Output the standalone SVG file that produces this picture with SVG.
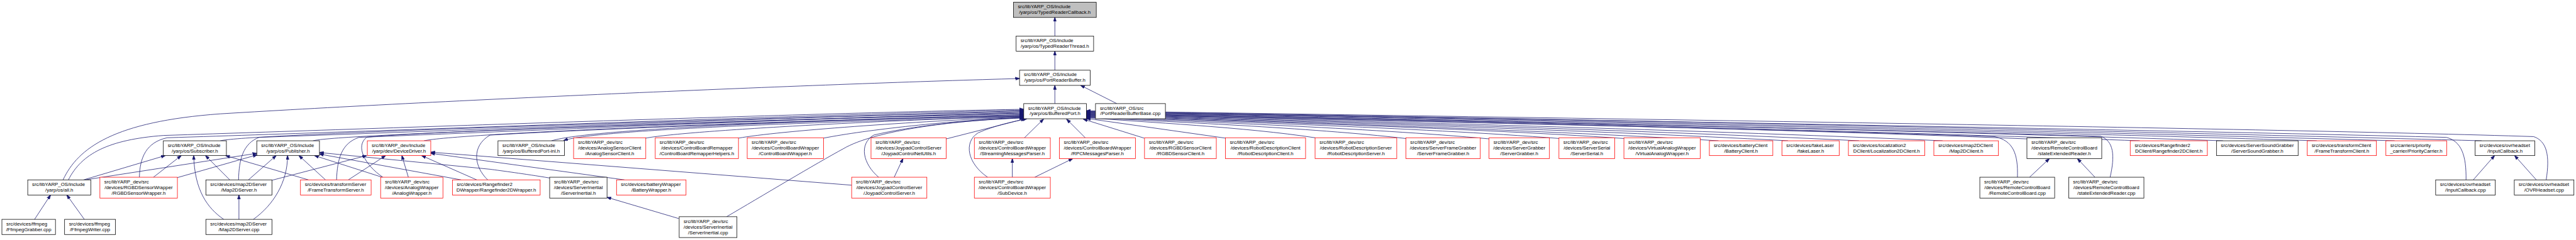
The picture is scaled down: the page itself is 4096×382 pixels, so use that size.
<svg xmlns="http://www.w3.org/2000/svg" width="4096" height="382" viewBox="0 0 4096 382">
<style>
.n rect{fill:#fff;stroke:#000;stroke-width:1.3}
.r rect{stroke:#ff0000}
.g rect{fill:#bfbfbf}
text{font-family:"Liberation Sans",Arial,Helvetica,sans-serif;font-size:13px;fill:#000}
.c{text-anchor:middle}
#edges path{fill:none;stroke:#191970;stroke-width:1.3;marker-end:url(#ah)}
</style>
<defs>
<marker id="ah" markerUnits="userSpaceOnUse" markerWidth="12" markerHeight="9" viewBox="0 0 12 9" refX="11" refY="4.5" orient="auto"><path d="M0,0.5 L12,4.5 L0,8.5 z" fill="#191970" stroke="#191970" stroke-width="1"/></marker>
</defs>
<rect width="4096" height="382" fill="#fff"/>
<g transform="scale(0.604)">
<g id="edges">
<path d="M2777,95 L2777,46"/>
<path d="M2777,185 L2777,135"/>
<path d="M2777,273 L2777,225"/>
<path d="M2940,273 L2845,225"/>
<path d="M166,474 C205,390 300,320 580,300 C1200,262 2200,220 2684,207"/>
<path d="M180,474 C215,405 285,368 430,357 C1100,335 2200,296 2695,288"/>
<path d="M367,467 C368,415 385,375 440,363 C1100,342 2200,300 2695,290"/>
<path d="M580,371 C640,356 1400,330 2695,292"/>
<path d="M628,474 C629,420 640,378 682,362 C1300,340 2200,305 2695,294"/>
<path d="M824,371 C880,355 1700,328 2695,296"/>
<path d="M886,474 C888,420 898,378 945,362 C1500,340 2300,305 2695,298"/>
<path d="M1008,467 C960,435 935,385 965,362 C1100,345 2200,310 2695,300"/>
<path d="M1116,371 C1200,352 2000,320 2695,302"/>
<path d="M1284,474 C1248,440 1240,385 1290,356 C1600,338 2300,312 2695,304"/>
<path d="M1452,371 C1560,338 2200,315 2695,305"/>
<path d="M2695,307 C2200,320 1580,340 1484,370"/>
<path d="M1700,364 C1800,345 2300,318 2695,306"/>
<path d="M1944,364 C2050,345 2400,320 2695,308"/>
<path d="M2168,364 C2280,342 2500,318 2695,309"/>
<path d="M1913,571 C2000,520 2150,430 2220,392 C2300,345 2500,318 2695,310"/>
<path d="M2313,467 C2272,432 2260,380 2300,356 C2400,332 2550,316 2695,311"/>
<path d="M2491,366 L2699,313"/>
<path d="M2600,467 C2548,432 2535,375 2575,350 C2620,330 2670,320 2703,313"/>
<path d="M2697,363 L2747,314"/>
<path d="M2857,363 L2808,314"/>
<path d="M3012,364 L2852,314"/>
<path d="M3226,364 L2860,312"/>
<path d="M3462,363 C3281,335 3010,322 2860,310"/>
<path d="M3701,365 C3449,336 3070,321 2860,309"/>
<path d="M3921,366 C3603,337 3125,320 2860,308"/>
<path d="M4106,365 C3732,336 3171,319 2860,307"/>
<path d="M4276,365 C3851,336 3214,318 2860,306"/>
<path d="M4524,371 C4025,341 3276,317 2860,305"/>
<path d="M4707,371 C4153,341 3322,316 2860,304"/>
<path d="M4894,371 C4284,341 3368,315 2860,303"/>
<path d="M5114,371 C4438,341 3423,314 2860,302"/>
<path d="M5336,366 C4593,336 3479,313 2860,301"/>
<path d="M5311,467 C5313,405 5300,370 5250,360 C4600,338 3500,315 2860,300"/>
<path d="M5555,467 C5568,410 5565,372 5530,359 C4800,337 3600,314 2860,299"/>
<path d="M5633,371 C4801,341 3553,311 2860,298"/>
<path d="M5852,371 C4954,341 3608,310 2860,297"/>
<path d="M6099,371 C5127,341 3670,309 2860,296"/>
<path d="M6304,371 C5271,341 3721,308 2860,295"/>
<path d="M6492,474 C6493,410 6480,372 6440,362 C5600,340 3800,310 2860,294"/>
<path d="M6533,371 C5431,341 3778,306 2860,293"/>
<path d="M6703,474 C6713,410 6705,372 6670,360 C6000,338 3900,308 2860,292"/>
<path d="M220,474 L435,410"/>
<path d="M404,467 L477,410"/>
<path d="M589,578 C545,548 512,500 510,410"/>
<path d="M605,474 L541,410"/>
<path d="M812,474 L594,410"/>
<path d="M224,474 L676,404"/>
<path d="M467,468 L677,408"/>
<path d="M654,474 L727,410"/>
<path d="M667,578 C720,540 757,480 757,410"/>
<path d="M857,474 L787,410"/>
<path d="M1006,467 L828,410"/>
<path d="M1214,474 L841,406"/>
<path d="M1447,469 C1380,458 1320,450 1290,446 L841,402"/>
<path d="M716,475 L965,410"/>
<path d="M917,474 L1015,410"/>
<path d="M1075,467 L1058,410"/>
<path d="M1255,474 L1110,410"/>
<path d="M1644,474 L1134,404"/>
<path d="M2242,488 L1134,401"/>
<path d="M91,578 L133,514"/>
<path d="M222,578 L176,514"/>
<path d="M629,578 L629,514"/>
<path d="M1787,576 L1598,520"/>
<path d="M2665,467 L2665,418"/>
<path d="M2724,467 L2824,418"/>
<path d="M2354,467 L2377,418"/>
<path d="M5343,467 L5395,418"/>
<path d="M5515,467 L5469,418"/>
<path d="M6511,474 L6567,410"/>
<path d="M6677,474 L6620,410"/>
</g>
<g id="n_root" class="n g"><rect x="2668" y="6" width="218" height="40"/><text x="2679.5" y="22">src/libYARP_OS/include</text><text class="c" x="2777" y="36.5">/yarp/os/TypedReaderCallback.h</text></g>
<g id="n_trt" class="n"><rect x="2675" y="95" width="204" height="40"/><text x="2686.5" y="111">src/libYARP_OS/include</text><text class="c" x="2777" y="125.5">/yarp/os/TypedReaderThread.h</text></g>
<g id="n_prb" class="n"><rect x="2684" y="185" width="186" height="40"/><text x="2695.5" y="201">src/libYARP_OS/include</text><text class="c" x="2777" y="215.5">/yarp/os/PortReaderBuffer.h</text></g>
<g id="n_bp" class="n"><rect x="2695" y="273" width="165" height="40"/><text x="2706.5" y="289">src/libYARP_OS/include</text><text class="c" x="2777.5" y="303.5">/yarp/os/BufferedPort.h</text></g>
<g id="n_prbb" class="n"><rect x="2884" y="273" width="184" height="40"/><text x="2895.5" y="289">src/libYARP_OS/src</text><text class="c" x="2976" y="303.5">/PortReaderBufferBase.cpp</text></g>
<g id="n_sub" class="n"><rect x="430" y="371" width="166" height="39"/><text x="441.5" y="387">src/libYARP_OS/include</text><text class="c" x="513" y="401.5">/yarp/os/Subscriber.h</text></g>
<g id="n_pub" class="n"><rect x="676" y="371" width="165" height="39"/><text x="687.5" y="387">src/libYARP_OS/include</text><text class="c" x="758.5" y="401.5">/yarp/os/Publisher.h</text></g>
<g id="n_dd" class="n r"><rect x="967" y="371" width="167" height="39"/><text x="978.5" y="387">src/libYARP_dev/include</text><text class="c" x="1050.5" y="401.5">/yarp/dev/DeviceDriver.h</text></g>
<g id="n_bpinl" class="n"><rect x="1311" y="371" width="175" height="39"/><text x="1322.5" y="387">src/libYARP_OS/include</text><text class="c" x="1398.5" y="401.5">/yarp/os/BufferedPort-inl.h</text></g>
<g id="n_asc" class="n r"><rect x="1510" y="363" width="190" height="55"/><text x="1521.5" y="379">src/libYARP_dev/src</text><text class="c" x="1605" y="394">/devices/AnalogSensorClient</text><text class="c" x="1605" y="409">/AnalogSensorClient.h</text></g>
<g id="n_cbrh" class="n r"><rect x="1725" y="363" width="219" height="55"/><text x="1736.5" y="379">src/libYARP_dev/src</text><text class="c" x="1834.5" y="394">/devices/ControlBoardRemapper</text><text class="c" x="1834.5" y="409">/ControlBoardRemapperHelpers.h</text></g>
<g id="n_cbw" class="n r"><rect x="1967" y="363" width="201" height="55"/><text x="1978.5" y="379">src/libYARP_dev/src</text><text class="c" x="2067.5" y="394">/devices/ControlBoardWrapper</text><text class="c" x="2067.5" y="409">/ControlBoardWrapper.h</text></g>
<g id="n_jcnu" class="n r"><rect x="2293" y="363" width="198" height="55"/><text x="2304.5" y="379">src/libYARP_dev/src</text><text class="c" x="2392" y="394">/devices/JoypadControlServer</text><text class="c" x="2392" y="409">/JoypadControlNetUtils.h</text></g>
<g id="n_smp" class="n r"><rect x="2565" y="363" width="200" height="55"/><text x="2576.5" y="379">src/libYARP_dev/src</text><text class="c" x="2665" y="394">/devices/ControlBoardWrapper</text><text class="c" x="2665" y="409">/StreamingMessagesParser.h</text></g>
<g id="n_rpc" class="n r"><rect x="2789" y="363" width="200" height="55"/><text x="2800.5" y="379">src/libYARP_dev/src</text><text class="c" x="2889" y="394">/devices/ControlBoardWrapper</text><text class="c" x="2889" y="409">/RPCMessagesParser.h</text></g>
<g id="n_rgbdc" class="n r"><rect x="3013" y="363" width="189" height="55"/><text x="3024.5" y="379">src/libYARP_dev/src</text><text class="c" x="3107.5" y="394">/devices/RGBDSensorClient</text><text class="c" x="3107.5" y="409">/RGBDSensorClient.h</text></g>
<g id="n_rdc" class="n r"><rect x="3226" y="363" width="211" height="55"/><text x="3237.5" y="379">src/libYARP_dev/src</text><text class="c" x="3331.5" y="394">/devices/RobotDescriptionClient</text><text class="c" x="3331.5" y="409">/RobotDescriptionClient.h</text></g>
<g id="n_rds" class="n r"><rect x="3462" y="363" width="215" height="55"/><text x="3473.5" y="379">src/libYARP_dev/src</text><text class="c" x="3569.5" y="394">/devices/RobotDescriptionServer</text><text class="c" x="3569.5" y="409">/RobotDescriptionServer.h</text></g>
<g id="n_sfg" class="n r"><rect x="3701" y="363" width="196" height="55"/><text x="3712.5" y="379">src/libYARP_dev/src</text><text class="c" x="3799" y="394">/devices/ServerFrameGrabber</text><text class="c" x="3799" y="409">/ServerFrameGrabber.h</text></g>
<g id="n_sg" class="n r"><rect x="3920" y="363" width="159" height="55"/><text x="3931.5" y="379">src/libYARP_dev/src</text><text class="c" x="3999.5" y="394">/devices/ServerGrabber</text><text class="c" x="3999.5" y="409">/ServerGrabber.h</text></g>
<g id="n_ss" class="n r"><rect x="4104" y="363" width="147" height="55"/><text x="4115.5" y="379">src/libYARP_dev/src</text><text class="c" x="4177.5" y="394">/devices/ServerSerial</text><text class="c" x="4177.5" y="409">/ServerSerial.h</text></g>
<g id="n_vaw" class="n r"><rect x="4275" y="363" width="201" height="55"/><text x="4286.5" y="379">src/libYARP_dev/src</text><text class="c" x="4375.5" y="394">/devices/VirtualAnalogWrapper</text><text class="c" x="4375.5" y="409">/VirtualAnalogWrapper.h</text></g>
<g id="n_bc" class="n r"><rect x="4500" y="371" width="167" height="39"/><text x="4511.5" y="387">src/devices/batteryClient</text><text class="c" x="4583.5" y="401.5">/BatteryClient.h</text></g>
<g id="n_fl" class="n r"><rect x="4691" y="371" width="151" height="39"/><text x="4702.5" y="387">src/devices/fakeLaser</text><text class="c" x="4766.5" y="401.5">/fakeLaser.h</text></g>
<g id="n_l2c" class="n r"><rect x="4866" y="371" width="201" height="39"/><text x="4877.5" y="387">src/devices/localization2</text><text class="c" x="4966.5" y="401.5">DClient/Localization2DClient.h</text></g>
<g id="n_m2c" class="n r"><rect x="5091" y="371" width="170" height="39"/><text x="5102.5" y="387">src/devices/map2DClient</text><text class="c" x="5176" y="401.5">/Map2DClient.h</text></g>
<g id="n_ser" class="n"><rect x="5336" y="363" width="197" height="55"/><text x="5347.5" y="379">src/libYARP_dev/src</text><text class="c" x="5434.5" y="394">/devices/RemoteControlBoard</text><text class="c" x="5434.5" y="409">/stateExtendedReader.h</text></g>
<g id="n_r2c" class="n r"><rect x="5608" y="371" width="203" height="39"/><text x="5619.5" y="387">src/devices/Rangefinder2</text><text class="c" x="5709.5" y="401.5">DClient/Rangefinder2DClient.h</text></g>
<g id="n_ssg" class="n"><rect x="5835" y="371" width="215" height="39"/><text x="5846.5" y="387">src/devices/ServerSoundGrabber</text><text class="c" x="5942.5" y="401.5">/ServerSoundGrabber.h</text></g>
<g id="n_ftc" class="n r"><rect x="6074" y="371" width="182" height="39"/><text x="6085.5" y="387">src/devices/transformClient</text><text class="c" x="6165" y="401.5">/FrameTransformClient.h</text></g>
<g id="n_pc" class="n r"><rect x="6281" y="371" width="160" height="39"/><text x="6292.5" y="387">src/carriers/priority</text><text class="c" x="6361" y="401.5">_carrier/PriorityCarrier.h</text></g>
<g id="n_ich" class="n"><rect x="6516" y="371" width="157" height="39"/><text x="6527.5" y="387">src/devices/ovrheadset</text><text class="c" x="6594.5" y="401.5">/InputCallback.h</text></g>
<g id="n_all" class="n"><rect x="73" y="474" width="166" height="40"/><text x="84.5" y="490">src/libYARP_OS/include</text><text class="c" x="156" y="504.5">/yarp/os/all.h</text></g>
<g id="n_rgbdw" class="n r"><rect x="263" y="467" width="204" height="55"/><text x="274.5" y="483">src/libYARP_dev/src</text><text class="c" x="365" y="498">/devices/RGBDSensorWrapper</text><text class="c" x="365" y="513">/RGBDSensorWrapper.h</text></g>
<g id="n_m2sh" class="n"><rect x="542" y="474" width="174" height="40"/><text x="553.5" y="490">src/devices/map2DServer</text><text class="c" x="629" y="504.5">/Map2DServer.h</text></g>
<g id="n_fts" class="n r"><rect x="791" y="474" width="186" height="40"/><text x="802.5" y="490">src/devices/transformServer</text><text class="c" x="884" y="504.5">/FrameTransformServer.h</text></g>
<g id="n_aw" class="n r"><rect x="1002" y="467" width="164" height="55"/><text x="1013.5" y="483">src/libYARP_dev/src</text><text class="c" x="1084" y="498">/devices/AnalogWrapper</text><text class="c" x="1084" y="513">/AnalogWrapper.h</text></g>
<g id="n_r2w" class="n r"><rect x="1191" y="474" width="231" height="40"/><text x="1202.5" y="490">src/devices/Rangefinder2</text><text class="c" x="1306.5" y="504.5">DWrapper/Rangefinder2DWrapper.h</text></g>
<g id="n_sih" class="n"><rect x="1447" y="467" width="151" height="55"/><text x="1458.5" y="483">src/libYARP_dev/src</text><text class="c" x="1522.5" y="498">/devices/ServerInertial</text><text class="c" x="1522.5" y="513">/ServerInertial.h</text></g>
<g id="n_bw" class="n r"><rect x="1623" y="474" width="183" height="40"/><text x="1634.5" y="490">src/devices/batteryWrapper</text><text class="c" x="1714.5" y="504.5">/BatteryWrapper.h</text></g>
<g id="n_jcs" class="n r"><rect x="2242" y="467" width="198" height="55"/><text x="2253.5" y="483">src/libYARP_dev/src</text><text class="c" x="2341" y="498">/devices/JoypadControlServer</text><text class="c" x="2341" y="513">/JoypadControlServer.h</text></g>
<g id="n_sd" class="n r"><rect x="2565" y="467" width="200" height="55"/><text x="2576.5" y="483">src/libYARP_dev/src</text><text class="c" x="2665" y="498">/devices/ControlBoardWrapper</text><text class="c" x="2665" y="513">/SubDevice.h</text></g>
<g id="n_rcb" class="n"><rect x="5212" y="467" width="197" height="55"/><text x="5223.5" y="483">src/libYARP_dev/src</text><text class="c" x="5310.5" y="498">/devices/RemoteControlBoard</text><text class="c" x="5310.5" y="513">/RemoteControlBoard.cpp</text></g>
<g id="n_serc" class="n"><rect x="5446" y="467" width="198" height="55"/><text x="5457.5" y="483">src/libYARP_dev/src</text><text class="c" x="5545" y="498">/devices/RemoteControlBoard</text><text class="c" x="5545" y="513">/stateExtendedReader.cpp</text></g>
<g id="n_icc" class="n"><rect x="6412" y="474" width="157" height="40"/><text x="6423.5" y="490">src/devices/ovrheadset</text><text class="c" x="6490.5" y="504.5">/InputCallback.cpp</text></g>
<g id="n_ovr" class="n"><rect x="6619" y="474" width="157" height="40"/><text x="6630.5" y="490">src/devices/ovrheadset</text><text class="c" x="6697.5" y="504.5">/OVRHeadset.cpp</text></g>
<g id="n_ffg" class="n"><rect x="5" y="578" width="141" height="40"/><text x="16.5" y="594">src/devices/ffmpeg</text><text class="c" x="75.5" y="608.5">/FfmpegGrabber.cpp</text></g>
<g id="n_ffw" class="n"><rect x="170" y="578" width="134" height="40"/><text x="181.5" y="594">src/devices/ffmpeg</text><text class="c" x="237" y="608.5">/FfmpegWriter.cpp</text></g>
<g id="n_m2sc" class="n"><rect x="542" y="578" width="174" height="40"/><text x="553.5" y="594">src/devices/map2DServer</text><text class="c" x="629" y="608.5">/Map2DServer.cpp</text></g>
<g id="n_sic" class="n"><rect x="1788" y="571" width="152" height="55"/><text x="1799.5" y="587">src/libYARP_dev/src</text><text class="c" x="1864" y="602">/devices/ServerInertial</text><text class="c" x="1864" y="617">/ServerInertial.cpp</text></g>
</g>
</svg>
